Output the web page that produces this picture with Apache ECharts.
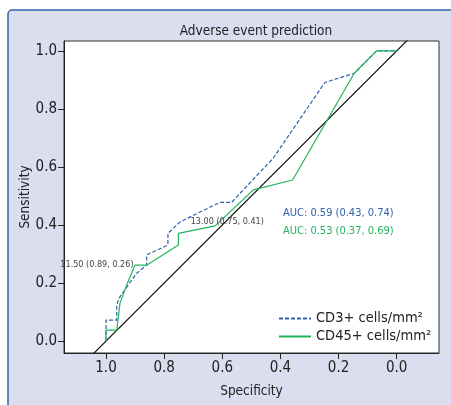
<!DOCTYPE html>
<html><head><meta charset="utf-8">
<script src="https://cdn.jsdelivr.net/npm/echarts@6/dist/echarts.min.js"></script>
<style>html,body{margin:0;padding:0;background:#fff}#c{width:451px;height:405px}</style>
</head><body><div id="c"></div>
<script>
var FONT = "'DejaVu Sans Condensed','Liberation Sans',sans-serif";
var title = "Adverse event prediction";
var xName = "Specificity";
var yName = "Sensitivity";
var tickValues = [0, 0.2, 0.4, 0.6, 0.8, 1.0];
var seriesNames = ["CD3+ cells/mm\u00B2", "CD45+ cells/mm\u00B2"];
var cd3Spec = [1.0,1.0,0.963,0.963,0.955,0.917,0.894,0.860,0.860,0.787,0.787,0.745,0.608,0.568,0.425,0.247,0.146,0.069,0.0];
var cd3Sens = [0.0,0.072,0.072,0.124,0.148,0.203,0.234,0.262,0.297,0.331,0.371,0.411,0.478,0.478,0.630,0.891,0.923,1.0,1.0];
var cd45Spec = [1.0,1.0,0.963,0.952,0.929,0.900,0.859,0.751,0.751,0.625,0.493,0.358,0.146,0.069,0.0];
var cd45Sens = [0.0,0.038,0.038,0.130,0.193,0.262,0.262,0.331,0.371,0.397,0.521,0.555,0.923,1.0,1.0];
var refSpec = [1.05, -0.05];
var refSens = [-0.05, 1.05];
var cd3LabelIdx = 11, cd3LabelText = "13.00 (0.75, 0.41)";
var cd45LabelIdx = 5, cd45LabelText = "11.50 (0.89, 0.26)";
var aucTexts = ["AUC: 0.59 (0.43, 0.74)", "AUC: 0.53 (0.37, 0.69)"];

var BLUE = '#2e62ad', GREEN = '#1fb35a';
function toPts(xs, ys) { return xs.map(function (x, i) { return [x, ys[i]]; }); }
function mark(xs, ys, li, lt, pos, dist) {
  return {
    symbol: 'circle', symbolSize: 1, silent: true,
    itemStyle: { color: 'rgba(0,0,0,0)' },
    data: [{ coord: [xs[li], ys[li]],
      label: { show: true, formatter: lt, position: pos, distance: dist, color: '#444', fontSize: 9, fontFamily: FONT } }]
  };
}
var chart = echarts.init(document.getElementById('c'), null, { renderer: 'canvas' });
var axisCommon = {
  type: 'value',
  axisLine: { show: true, onZero: false, lineStyle: { color: '#222', width: 1 } },
  axisTick: { show: true, length: 6, customValues: tickValues, lineStyle: { color: '#222' } },
  axisLabel: { customValues: tickValues, color: '#222', fontSize: 15, fontFamily: FONT, formatter: function (v) { return v.toFixed(1); } },
  splitLine: { show: false },
  nameLocation: 'middle',
  nameMoveOverlap: false,
  nameTextStyle: { color: '#222', fontSize: 13.5, fontFamily: FONT }
};
chart.setOption({
  animation: false,
  backgroundColor: 'transparent',
  graphic: [
    { type: 'rect', z: -10, shape: { x: 8, y: 10, width: 460, height: 420, r: 4 }, style: { fill: '#dadeee', stroke: '#3466b0', lineWidth: 1.5 } },
    { type: 'text', left: 283, top: 208, style: { text: aucTexts[0], fill: '#2e62ad', font: '11px ' + FONT } },
    { type: 'text', left: 283, top: 226, style: { text: aucTexts[1], fill: '#22b35c', font: '11px ' + FONT } }
  ],
  title: { text: title, left: 251, top: 19, textAlign: 'center', textStyle: { fontSize: 13.5, fontWeight: 'normal', color: '#222', fontFamily: FONT } },
  grid: { left: 64, top: 41, right: 12, bottom: 52, show: true, backgroundColor: '#fff', borderColor: '#333', borderWidth: 1 },
  xAxis: Object.assign({}, axisCommon, { min: -0.1455, max: 1.1445, inverse: true, name: xName, nameGap: 31,
    axisLabel: Object.assign({}, axisCommon.axisLabel, { margin: 8 }) }),
  yAxis: Object.assign({}, axisCommon, { min: -0.041, max: 1.034, name: yName, nameGap: 32,
    axisLabel: Object.assign({}, axisCommon.axisLabel, { margin: 7 }) }),
  legend: {
    left: 273, top: 306, orient: 'vertical', itemWidth: 32, itemHeight: 10, itemGap: 3,
    itemStyle: { opacity: 0 },
    textStyle: { fontSize: 14.5, color: '#222', fontFamily: FONT },
    data: seriesNames
  },
  series: [
    { name: 'ref', type: 'line', data: toPts(refSpec, refSens), symbol: 'none', clip: true, silent: true,
      lineStyle: { color: '#111', width: 1.2 }, z: 1 },
    { name: seriesNames[0], type: 'line', data: toPts(cd3Spec, cd3Sens), symbol: 'none', clip: true,
      lineStyle: { color: BLUE, width: 1.2, type: [4, 2] }, itemStyle: { color: BLUE }, z: 2,
      markPoint: mark(cd3Spec, cd3Sens, cd3LabelIdx, cd3LabelText, 'right', 10) },
    { name: seriesNames[1], type: 'line', data: toPts(cd45Spec, cd45Sens), symbol: 'none', clip: true,
      lineStyle: { color: GREEN, width: 1.2 }, itemStyle: { color: GREEN }, z: 3,
      markPoint: mark(cd45Spec, cd45Sens, cd45LabelIdx, cd45LabelText, 'left', 1) }
  ]
});
</script></body></html>
